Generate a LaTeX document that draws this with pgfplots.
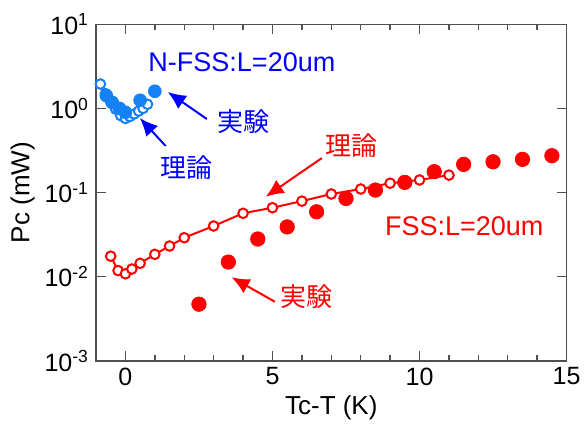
\documentclass[border=0pt]{standalone}
\usepackage{pgfplots}
\pgfplotsset{compat=1.18}
\usepackage{fontspec}
\setmainfont{Liberation Sans}
\newfontfamily\jp{Noto Sans CJK JP}
\usetikzlibrary{arrows.meta}
\definecolor{dblue}{RGB}{20,130,245}
\definecolor{tblue}{RGB}{0,0,255}
\definecolor{axgray}{RGB}{80,80,80}
\begin{document}
\begin{tikzpicture}
\begin{axis}[
  at={(0,0)}, anchor=south west,
  scale only axis, width=235.3pt, height=168.2pt,
  ymode=log, xmin=-1, xmax=15, ymin=1e-3, ymax=10,
  xtick={0,5,10,15}, minor x tick num=4,
  ytick={0.001,0.01,0.1,1,10},
  yticklabels={10\textsuperscript{-3},10\textsuperscript{-2},10\textsuperscript{-1},10\textsuperscript{0},10\textsuperscript{1}},
  yminorticks=false,
  tick align=inside,
  major tick length=5pt, minor tick length=3pt,
  axis line style={axgray, line width=0.8pt},
  every tick/.style={axgray, line width=0.7pt},
  /pgf/number format/assume math mode=true,
  tick label style={font=\fontsize{12.5}{14}\selectfont},
  label style={font=\fontsize{13}{15}\selectfont},
  xlabel={Tc-T (K)}, ylabel={Pc (mW)},
  xlabel style={yshift=2pt},
  ylabel style={yshift=-2pt},
  clip=false,
]
% red theory
\addplot[red, line width=1pt, mark=*, mark size=2.4pt, mark options={fill=white, line width=1pt}] coordinates {
(-0.5,0.0175) (-0.25,0.0118) (0,0.0108) (0.22,0.0123) (0.5,0.0144) (1,0.0184) (1.5,0.0231) (2,0.029) (3,0.040) (4,0.0566) (5,0.066) (6,0.079) (7,0.096) (8,0.110) (9,0.129) (10,0.141) (11,0.161)};
% red experiment
\addplot[only marks, mark=*, mark size=3.6pt, red] coordinates {
(2.5,0.0047) (3.5,0.0149) (4.5,0.028) (5.5,0.039) (6.5,0.059) (7.5,0.085) (8.5,0.107) (9.5,0.132) (10.5,0.177) (11.5,0.216) (12.5,0.232) (13.5,0.248) (14.5,0.274)};
% blue theory
\addplot[only marks, dblue, mark=*, mark size=2.4pt, mark options={fill=white, line width=1pt}] coordinates {
(-0.85,1.95) (-0.68,1.5) (-0.5,1.2) (-0.33,0.98) (-0.16,0.82) (0,0.76) (0.15,0.8) (0.3,0.86) (0.45,0.93) (0.6,1.0) (0.75,1.12)};
% blue experiment
\addplot[only marks, dblue, mark=*, mark size=3.2pt] coordinates {
(-0.65,1.42) (-0.45,1.18) (-0.2,1.0) (0,0.9) (0.5,1.25) (1,1.6)};
% annotations
\node[tblue, font=\fontsize{13.5}{15}\selectfont] at (axis cs:3.96,3.57) {N-FSS:L=20um};
\node[tblue, font=\jp\fontsize{13}{15}\selectfont] at (axis cs:4.0,0.69) {実験};
\node[tblue, font=\jp\fontsize{13}{15}\selectfont] at (axis cs:2.07,0.20) {理論};
\draw[tblue, line width=1pt, -{Latex[length=9pt,width=8pt]}] (axis cs:2.77,0.748) -- (axis cs:1.44,1.567);
\draw[tblue, line width=1pt, -{Latex[length=9pt,width=8pt]}] (axis cs:1.37,0.357) -- (axis cs:0.49,0.769);
\node[red, font=\jp\fontsize{13}{15}\selectfont] at (axis cs:7.7,0.357) {理論};
\draw[red, line width=1pt, -{Latex[length=9pt,width=8pt]}] (axis cs:6.68,0.257) -- (axis cs:4.77,0.0891);
\node[red, font=\fontsize{13.5}{15}\selectfont] at (axis cs:11.52,0.040) {FSS:L=20um};
\node[red, font=\jp\fontsize{13}{15}\selectfont] at (axis cs:6.17,0.00572) {実験};
\draw[red, line width=1pt, -{Latex[length=9pt,width=8pt]}] (axis cs:5.08,0.00503) -- (axis cs:3.61,0.00982);
\end{axis}
\pgfresetboundingbox
\path (-48pt,-32.15pt) rectangle (244pt,180.35pt);
\end{tikzpicture}
\end{document}
